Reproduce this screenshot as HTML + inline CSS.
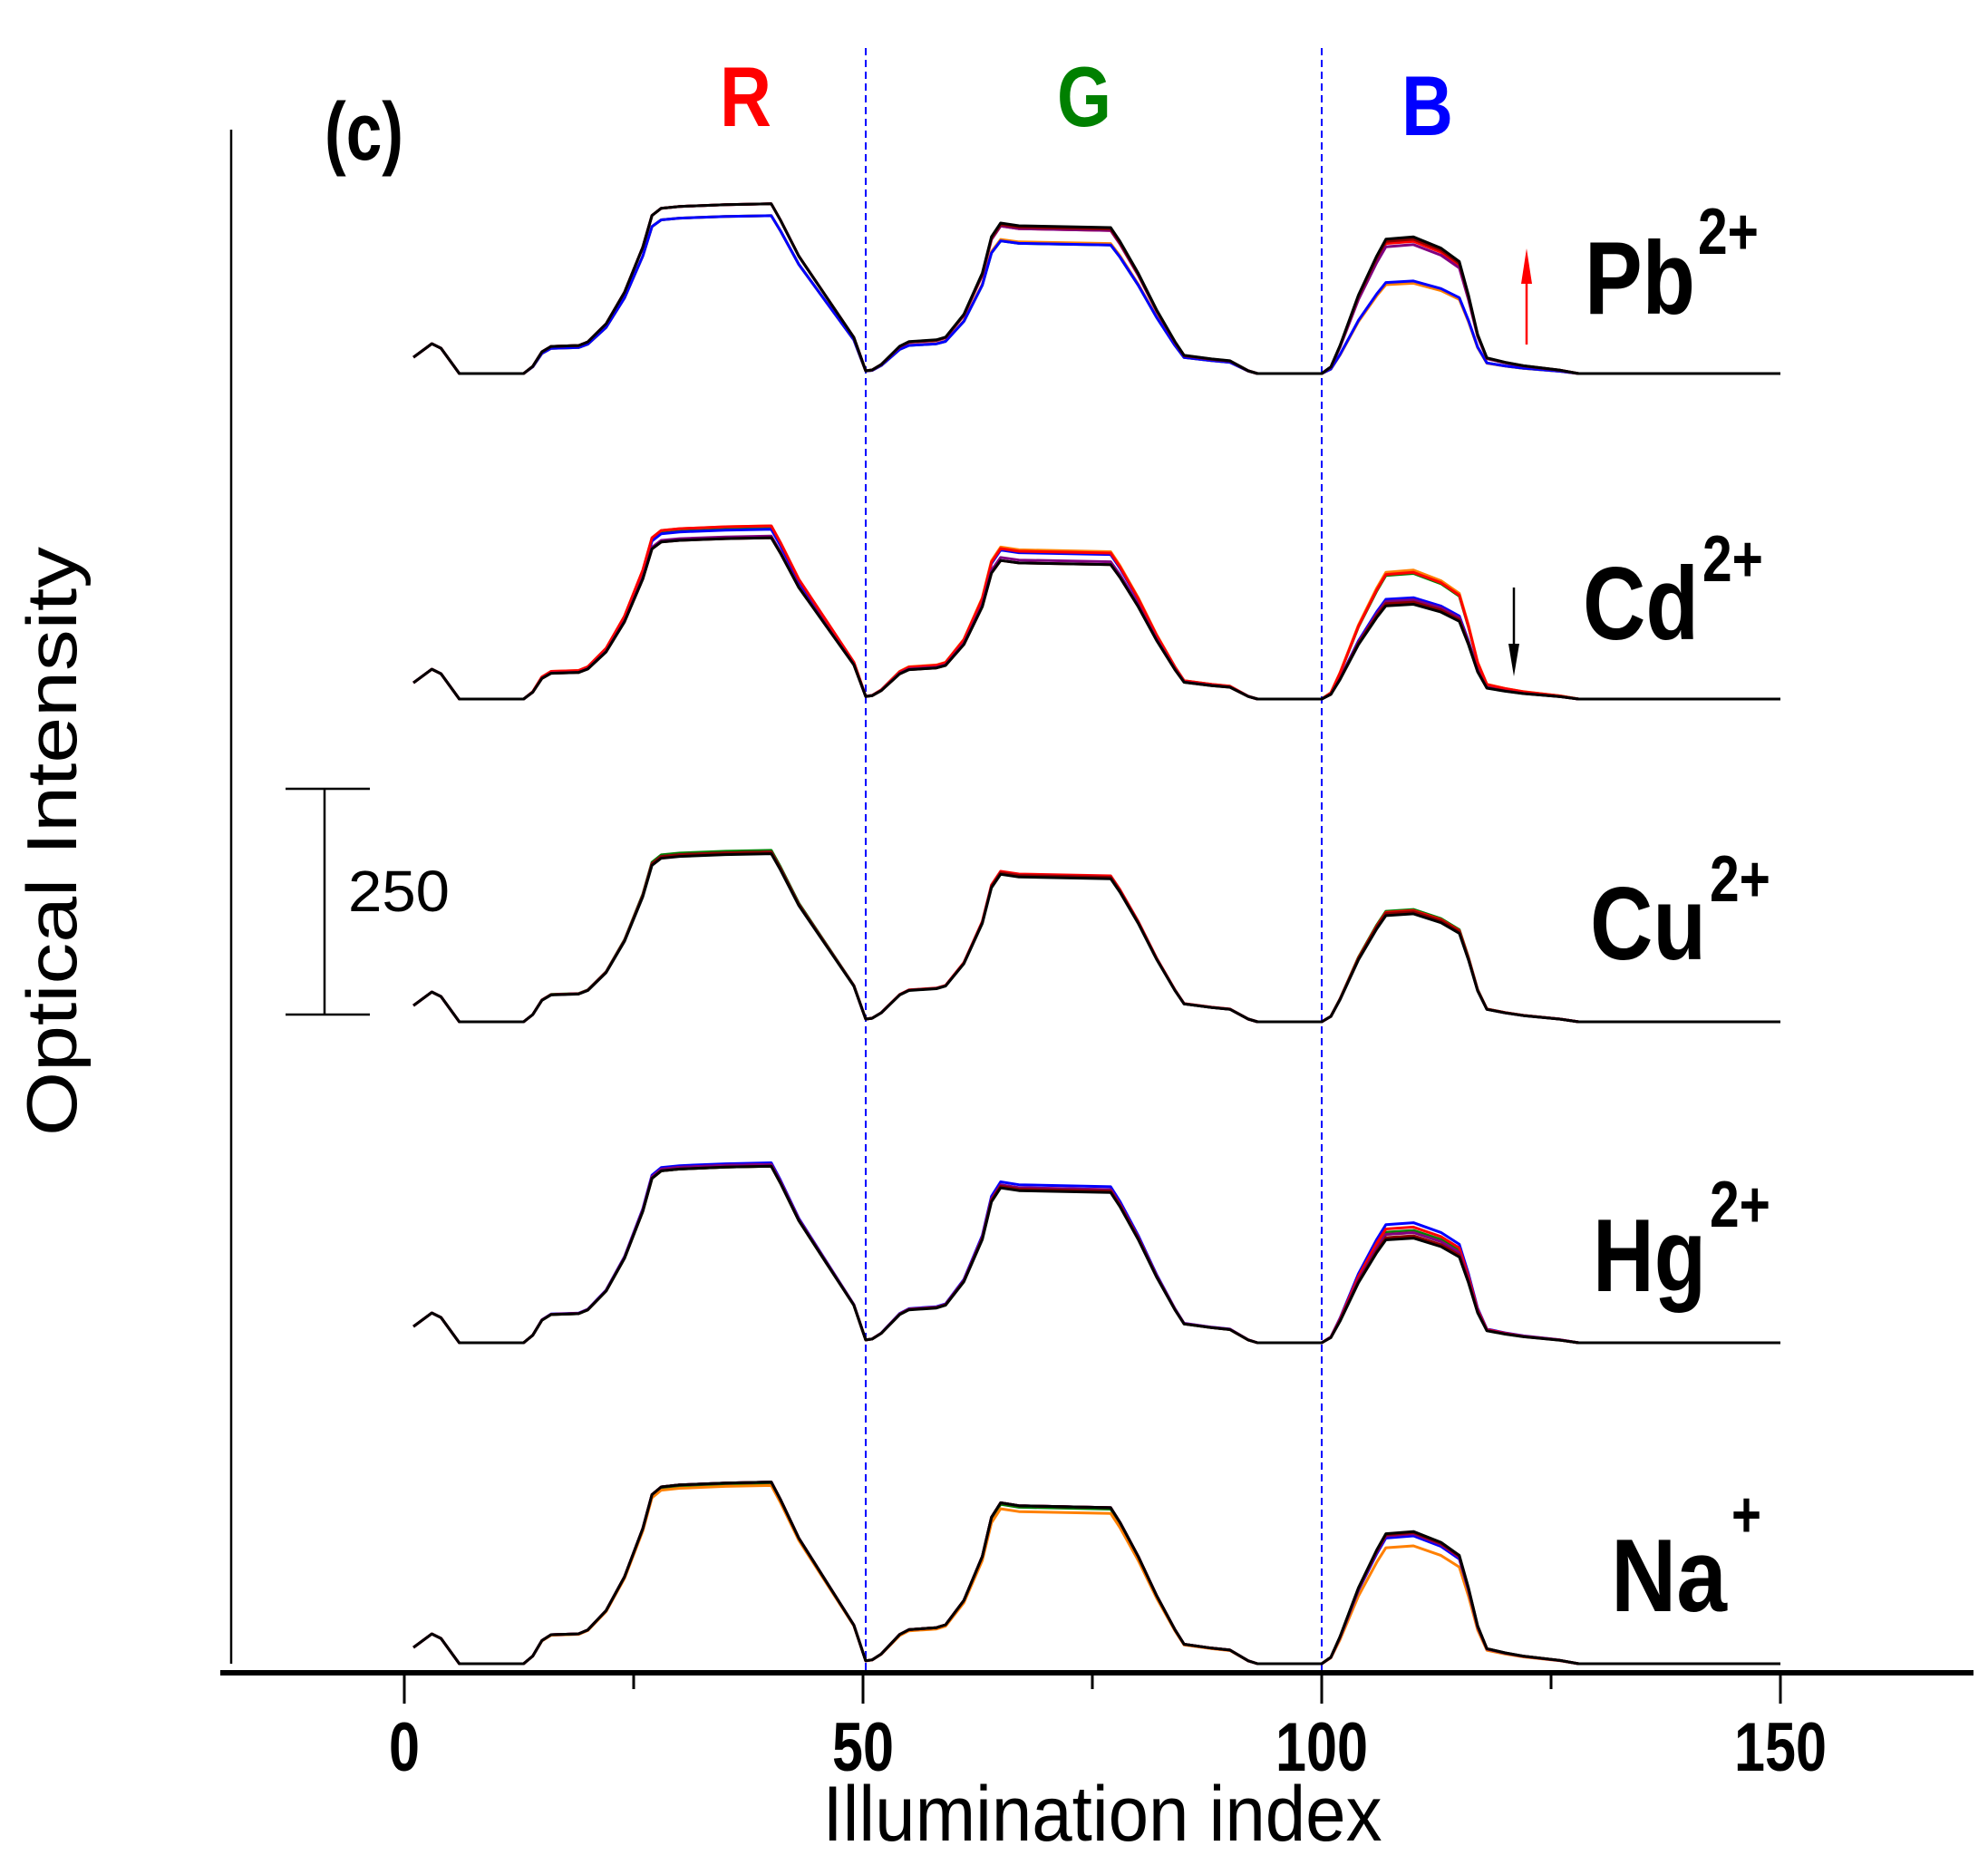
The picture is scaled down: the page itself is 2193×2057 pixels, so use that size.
<!DOCTYPE html>
<html><head><meta charset="utf-8"><style>
html,body{margin:0;padding:0;background:#fff;}
svg{display:block;font-family:"Liberation Sans",sans-serif;}
</style></head><body>
<svg id="chart" width="2193" height="2057" viewBox="0 0 2193 2057" xmlns="http://www.w3.org/2000/svg">
<g id="marks"></g>
<line x1="255" y1="143" x2="255" y2="1835" stroke="#000" stroke-width="2.5"/>
<line x1="243" y1="1845" x2="2177" y2="1845" stroke="#000" stroke-width="6"/>
<g id="ticks"></g>
<text x="1216" y="2030" font-size="86" text-anchor="middle" textLength="617" lengthAdjust="spacingAndGlyphs">Illumination index</text>
<text transform="translate(84,928) rotate(-90)" font-size="78" text-anchor="middle" textLength="650" lengthAdjust="spacingAndGlyphs">Optical Intensity</text>
<text x="358" y="176" font-size="90" font-weight="bold" textLength="87" lengthAdjust="spacingAndGlyphs">(c)</text>
<text x="794" y="139" font-size="94" font-weight="bold" fill="#ff0000" textLength="57" lengthAdjust="spacingAndGlyphs">R</text>
<text x="1166" y="139" font-size="94" font-weight="bold" fill="#008000" textLength="60" lengthAdjust="spacingAndGlyphs">G</text>
<text x="1546" y="149" font-size="94" font-weight="bold" fill="#0000ff" textLength="57" lengthAdjust="spacingAndGlyphs">B</text>
<g stroke="#000" stroke-width="2.5">
<line x1="358" y1="870" x2="358" y2="1119"/><line x1="315" y1="870" x2="408" y2="870"/><line x1="315" y1="1119" x2="408" y2="1119"/>
</g>
<text x="384" y="1005" font-size="64" textLength="112" lengthAdjust="spacingAndGlyphs">250</text>
<g font-weight="bold">
<text x="1748" y="346" font-size="114" textLength="122" lengthAdjust="spacingAndGlyphs">Pb</text>
<text x="1873" y="280" font-size="72" textLength="67" lengthAdjust="spacingAndGlyphs">2+</text>
<text x="1746" y="705" font-size="114" textLength="128" lengthAdjust="spacingAndGlyphs">Cd</text>
<text x="1878" y="641" font-size="72" textLength="67" lengthAdjust="spacingAndGlyphs">2+</text>
<text x="1754" y="1058" font-size="114" textLength="128" lengthAdjust="spacingAndGlyphs">Cu</text>
<text x="1886" y="994" font-size="72" textLength="67" lengthAdjust="spacingAndGlyphs">2+</text>
<text x="1757" y="1424" font-size="114" textLength="125" lengthAdjust="spacingAndGlyphs">Hg</text>
<text x="1886" y="1353" font-size="72" textLength="67" lengthAdjust="spacingAndGlyphs">2+</text>
<text x="1777" y="1777" font-size="114" textLength="128" lengthAdjust="spacingAndGlyphs">Na</text>
<text x="1910" y="1695" font-size="72" textLength="33" lengthAdjust="spacingAndGlyphs">+</text>
</g>
<g>
<line x1="1684" y1="380" x2="1684" y2="310" stroke="#ff0000" stroke-width="2.5"/>
<polygon points="1678,313 1690,313 1684,274" fill="#ff0000"/>
</g>
<g>
<line x1="1670" y1="648" x2="1670" y2="712" stroke="#000" stroke-width="2.5"/>
<polygon points="1664,710 1676,710 1670,746" fill="#000"/>
</g>
</svg>
<script>
// base intensity profile (Cu2+ reference) : index and value
const profileIdx = [1,3,4,6,13,14,15,16,19,20,22,24,26,27,28,30,35,40,41,43,46,49,50.3,51,52,54,55,58,59,61,63,64,65,67,77,78,80,82,84,85,88,90,92,93,100,101,102,104,106,107,110,113,115,116,117,118,120,122,126,128,150];
const profileVal = [18,33,28,0,0,8,24,30,31,35,55,90,140,175,183,185,187,188,170,130,85,40,3,4,10,30,35,37,40,65,110,150,165,162,160,145,110,70,35,20,16,14,3,0,0,6,25,70,105,120,122,112,100,70,35,14,10,7,3,0,0];
const panels = ["Pb2+","Cd2+","Cu2+","Hg2+","Na+"];
const panelBaseline = [412,771,1127,1481,1835];
const seriesColors = ["#008000","#ff8000","#0000ff","#ff0000","#800080","#8b0000","#000000"];
// per-panel channel scale factors for each series (R, G, B)
const pbR = [0.93,0.93,0.93,1.0,1.0,1.0,1.0];
const pbG = [0.89,0.9,0.89,0.99,0.99,1.0,1.01];
const pbB = [0.83,0.82,0.84,1.2,1.17,1.22,1.24];
const cdR = [1.01,1.02,1.0,1.02,0.96,0.95,0.95];
const cdG = [1.01,1.02,1.0,1.01,0.95,0.93,0.93];
const cdB = [1.14,1.17,0.92,1.15,0.9,0.88,0.86];
const cuR = [1.01,1.0,1.0,1.0,1.0,1.0,0.99];
const cuG = [1.0,1.0,1.0,1.01,1.0,1.0,0.99];
const cuB = [1.02,1.0,1.0,1.01,0.99,1.0,0.98];
const hgR = [1.04,1.05,1.06,1.05,1.05,1.04,1.04];
const hgG = [1.05,1.05,1.08,1.06,1.06,1.05,1.04];
const hgB = [1.02,1.0,1.09,1.05,1.0,0.97,0.95];
const naR = [1.06,1.05,1.07,1.07,1.07,1.07,1.07];
const naG = [1.07,1.04,1.08,1.08,1.08,1.08,1.08];
const naB = [1.18,1.07,1.16,1.18,1.18,1.19,1.2];
const panelR = [pbR,cdR,cuR,hgR,naR];
const panelG = [pbG,cdG,cuG,hgG,naG];
const panelB = [pbB,cdB,cuB,hgB,naB];
const xTicks = [0,50,100,150];
const xMinorTicks = [25,75,125];
const dividers = [50.3,100];

const NS="http://www.w3.org/2000/svg";
function xs(v){return 446+v*10.12;}
function ys(base,v){return base-v*0.996;}
const marks=document.getElementById('marks');
const ticks=document.getElementById('ticks');
dividers.forEach(function(d){
  const l=document.createElementNS(NS,'line');
  l.setAttribute('x1',xs(d));l.setAttribute('x2',xs(d));
  l.setAttribute('y1',53);l.setAttribute('y2',1845);
  l.setAttribute('stroke','#0000ff');l.setAttribute('stroke-width','2');
  l.setAttribute('stroke-dasharray','8,5');
  
  
  marks.appendChild(l);
});
panels.forEach(function(p,pi){
  const g=document.createElementNS(NS,'g');
  
  
  seriesColors.forEach(function(c,si){
    let d='';
    profileIdx.forEach(function(ix,k){
      let v=profileVal[k];
      if(ix>=13&&ix<=50.3) v*=panelR[pi][si];
      else if(ix>50.3&&ix<=93) v*=panelG[pi][si];
      else if(ix>=100) v*=panelB[pi][si];
      d+=(k?'L':'M')+xs(ix).toFixed(1)+','+ys(panelBaseline[pi],v).toFixed(1);
    });
    const path=document.createElementNS(NS,'path');
    path.setAttribute('d',d);path.setAttribute('fill','none');
    path.setAttribute('stroke',c);path.setAttribute('stroke-width','3');
    path.setAttribute('stroke-linejoin','round');
    
    
    g.appendChild(path);
  });
  marks.appendChild(g);
});
xTicks.forEach(function(t){
  const l=document.createElementNS(NS,'line');
  l.setAttribute('x1',xs(t));l.setAttribute('x2',xs(t));l.setAttribute('y1',1845);l.setAttribute('y2',1879);
  l.setAttribute('stroke','#000');l.setAttribute('stroke-width','3');
  
  
  ticks.appendChild(l);
  const tx=document.createElementNS(NS,'text');
  tx.setAttribute('x',xs(t));tx.setAttribute('y',1953);tx.setAttribute('text-anchor','middle');
  tx.setAttribute('font-size','76');tx.setAttribute('font-weight','bold');
  tx.setAttribute('textLength',String(t).length*34);tx.setAttribute('lengthAdjust','spacingAndGlyphs');
  tx.textContent=t;
  
  
  ticks.appendChild(tx);
});
xMinorTicks.forEach(function(t){
  const l=document.createElementNS(NS,'line');
  l.setAttribute('x1',xs(t));l.setAttribute('x2',xs(t));l.setAttribute('y1',1845);l.setAttribute('y2',1863);
  l.setAttribute('stroke','#000');l.setAttribute('stroke-width','3');
  
  
  ticks.appendChild(l);
});
</script>
</body></html>
